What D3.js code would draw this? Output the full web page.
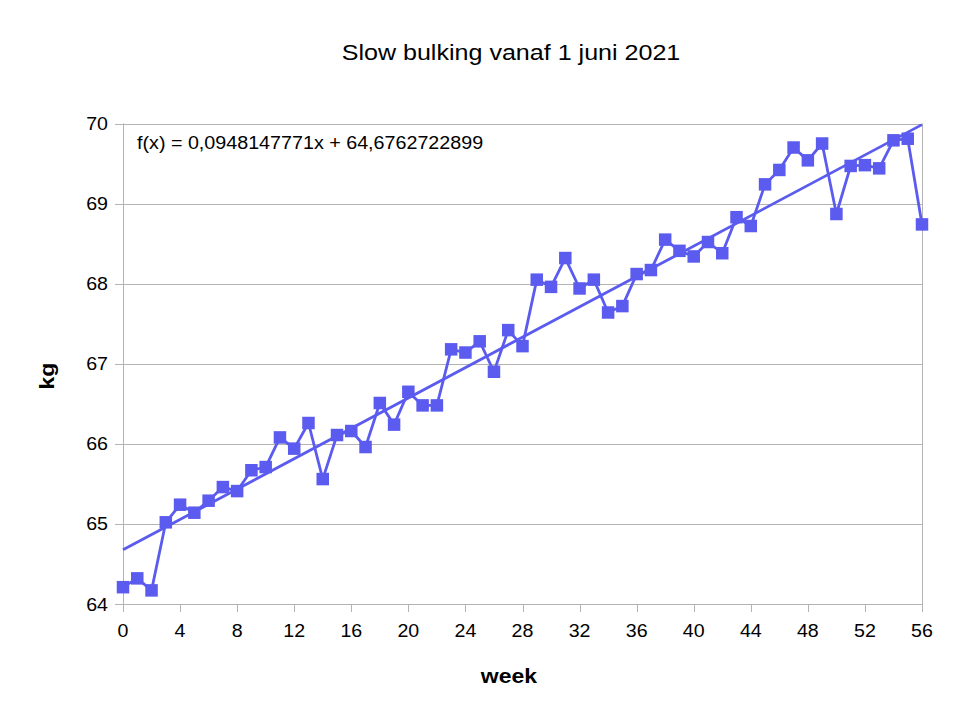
<!DOCTYPE html>
<html>
<head>
<meta charset="utf-8">
<script src="https://cdn.jsdelivr.net/npm/d3@7"></script>
<style>
  html, body { margin: 0; padding: 0; background: #ffffff; }
  svg { display: block; }
  text { font-family: "Liberation Sans", Arial, sans-serif; fill: #000; }
</style>
</head>
<body>
<svg id="chart" width="972" height="722"></svg>
<script>
const title = "Slow bulking vanaf 1 juni 2021";
const xTitle = "week";
const yTitle = "kg";
const weeks = [0,1,2,3,4,5,6,7,8,9,10,11,12,13,14,15,16,17,18,19,20,21,22,23,24,25,26,27,28,29,30,31,32,33,34,35,36,37,38,39,40,41,42,43,44,45,46,47,48,49,50,51,52,53,54,55,56];
const weights = [64.21,64.32,64.17,65.02,65.24,65.14,65.29,65.46,65.41,65.67,
                 65.71,66.08,65.94,66.26,65.56,66.11,66.16,65.96,66.51,66.24,
                 66.65,66.48,66.48,67.18,67.14,67.28,66.90,67.42,67.22,68.05,
                 67.96,68.32,67.94,68.05,67.64,67.72,68.12,68.17,68.55,68.41,
                 68.34,68.52,68.38,68.83,68.72,69.24,69.42,69.70,69.54,69.75,
                 68.87,69.47,69.48,69.44,69.79,69.81,68.74];
const xTicks = [0,4,8,12,16,20,24,28,32,36,40,44,48,52,56];
const yTicks = [64,65,66,67,68,69,70];
const trendSlope = 0.0948147771;
const trendIntercept = 64.6762722899;
const trendLabel = "f(x) = 0,0948147771x + 64,6762722899";

const color = "#5b5bef";
const gridColor = "#b3b3b3";
const stretch = 1.09;

const svg = d3.select("#chart");
const x = d3.scaleLinear().domain([0, 56]).range([123, 922]);
const y = d3.scaleLinear().domain([64, 70]).range([604, 123.5]);

// gridlines
svg.append("g").selectAll("line").data(yTicks).join("line")
  .attr("x1", x(0)).attr("x2", x(56))
  .attr("y1", d => Math.round(y(d)) + 0.5).attr("y2", d => Math.round(y(d)) + 0.5)
  .attr("stroke", gridColor).attr("stroke-width", 1);

// plot border (left/right)
svg.append("line").attr("x1", Math.round(x(0)) + 0.5).attr("x2", Math.round(x(0)) + 0.5)
  .attr("y1", y(70)).attr("y2", y(64) + 8).attr("stroke", gridColor);
svg.append("line").attr("x1", Math.round(x(56)) + 0.5).attr("x2", Math.round(x(56)) + 0.5)
  .attr("y1", y(70)).attr("y2", y(64) + 8).attr("stroke", gridColor);

// y ticks
svg.append("g").selectAll("line").data(yTicks).join("line")
  .attr("x1", x(0) - 8).attr("x2", x(0))
  .attr("y1", d => Math.round(y(d)) + 0.5).attr("y2", d => Math.round(y(d)) + 0.5)
  .attr("stroke", gridColor);
// x ticks
svg.append("g").selectAll("line").data(xTicks).join("line")
  .attr("x1", d => Math.round(x(d)) + 0.5).attr("x2", d => Math.round(x(d)) + 0.5)
  .attr("y1", y(64)).attr("y2", y(64) + 8)
  .attr("stroke", gridColor);

// y tick labels
svg.append("g").selectAll("text").data(yTicks).join("text")
  .attr("transform", d => `translate(${x(0) - 15},${y(d) + 6.5}) scale(${stretch},1)`)
  .attr("text-anchor", "end")
  .style("font-size", "18px")
  .text(d => d);
// x tick labels
svg.append("g").selectAll("text").data(xTicks).join("text")
  .attr("transform", d => `translate(${x(d)},${y(64) + 33}) scale(${stretch},1)`)
  .attr("text-anchor", "middle")
  .style("font-size", "18px")
  .text(d => d);

// trend line
svg.append("line")
  .attr("x1", x(0)).attr("y1", y(trendIntercept))
  .attr("x2", x(56)).attr("y2", y(trendIntercept + trendSlope * 56))
  .attr("stroke", color).attr("stroke-width", 2.8);

// data line
const line = d3.line().x((d, i) => x(weeks[i])).y(d => y(d));
svg.append("path").datum(weights)
  .attr("d", line).attr("fill", "none")
  .attr("stroke", color).attr("stroke-width", 2.8).attr("stroke-linejoin", "round");

// markers
const ms = 12.5;
svg.append("g").selectAll("rect").data(weights).join("rect")
  .attr("x", (d, i) => x(weeks[i]) - ms / 2)
  .attr("y", d => y(d) - ms / 2)
  .attr("width", ms).attr("height", ms)
  .attr("fill", color);

// equation
svg.append("text")
  .attr("transform", `translate(137,148.5) scale(1.065,1)`)
  .style("font-size", "18.5px")
  .text(trendLabel);

// title
svg.append("text")
  .attr("transform", `translate(511,59.5) scale(1.1,1)`)
  .attr("text-anchor", "middle")
  .style("font-size", "22.8px")
  .text(title);

// axis titles
svg.append("text")
  .attr("transform", `translate(509,683) scale(1.15,1)`)
  .attr("text-anchor", "middle")
  .style("font-size", "20px").style("font-weight", "bold")
  .text(xTitle);
svg.append("text")
  .attr("transform", `translate(54,376) rotate(-90) scale(1.15,1)`)
  .attr("text-anchor", "middle")
  .style("font-size", "20px").style("font-weight", "bold")
  .text(yTitle);
</script>
</body>
</html>
